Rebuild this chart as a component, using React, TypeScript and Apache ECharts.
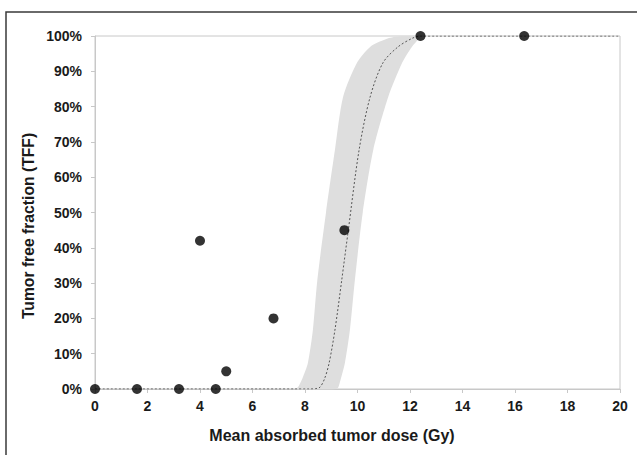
import React, { useEffect, useRef } from "react";
import * as echarts from "echarts";

// Observed data points (dose Gy, TFF %)
const pointDose = [0, 1.6, 3.2, 4.0, 4.6, 5.0, 6.8, 9.5, 12.4, 16.35];
const pointTFF = [0, 0, 0, 42, 0, 5, 20, 45, 100, 100];

// Fitted dose-response curve
const curveDose = [0, 8.2, 8.4, 8.57, 8.75, 8.92, 9.14, 9.4, 9.65, 10.06, 10.48, 10.97, 11.54, 12.1, 12.4, 13, 20];
const curveTFF = [0, 0, 0.1, 0.5, 3, 7.4, 16.7, 30.9, 45, 67.7, 82.7, 92.4, 96.9, 99.4, 100, 100, 100];

// Confidence band: left edge (ascending) then right edge (descending)
const bandLeftDose = [7.6, 7.73, 7.9, 8.11, 8.3, 8.47, 8.8, 9.14, 9.45, 9.98, 10.48, 11.2, 11.7, 12.1];
const bandLeftTFF = [0, 0.5, 3, 7.4, 16.7, 30.9, 50, 67.7, 82.7, 92.4, 96.9, 99.4, 100, 100];
const bandRightDose = [12.4, 12.07, 11.7, 11.17, 10.6, 10.2, 9.9, 9.71, 9.52, 9.35, 9.27, 9.2];
const bandRightTFF = [100, 96.9, 92.4, 82.7, 67.7, 50, 30.9, 16.7, 7.4, 2.5, 0.5, 0];

const xTitle = "Mean absorbed tumor dose (Gy)";
const yTitle = "Tumor free fraction (TFF)";

const FONT = "'Liberation Sans', Arial, sans-serif";

export default function App() {
  const ref = useRef<HTMLDivElement>(null);
  useEffect(() => {
    if (!ref.current) return;
    const chart = echarts.init(ref.current, null, { renderer: "svg" });
    const bandData = [
      ...bandLeftDose.map((d, i) => [d, bandLeftTFF[i]]),
      ...bandRightDose.map((d, i) => [d, bandRightTFF[i]]),
    ];
    const curveData = curveDose.map((d, i) => [d, curveTFF[i]]);
    const pointData = pointDose.map((d, i) => [d, pointTFF[i]]);
    chart.setOption({
      animation: false,
      backgroundColor: "#ffffff",
      grid: {
        left: 95,
        right: 17,
        top: 36,
        bottom: 66,
        show: true,
        borderColor: "#c8c8c8",
        borderWidth: 1,
        backgroundColor: "transparent",
        outerBoundsMode: "none",
      },
      xAxis: {
        type: "value",
        min: 0,
        max: 20,
        interval: 2,
        splitLine: { show: false },
        axisLine: { show: true, onZero: false, lineStyle: { color: "#c8c8c8", width: 1 } },
        axisTick: { show: true, length: 4, lineStyle: { color: "#c8c8c8" } },
        axisLabel: { color: "#1a1a1a", fontWeight: "bold", fontSize: 14, fontFamily: FONT, margin: 10 },
      },
      yAxis: {
        type: "value",
        min: 0,
        max: 100,
        interval: 10,
        splitLine: { show: false },
        axisLine: { show: true, onZero: false, lineStyle: { color: "#c8c8c8", width: 1 } },
        axisTick: { show: true, length: 4, lineStyle: { color: "#c8c8c8" } },
        axisLabel: {
          color: "#1a1a1a",
          fontWeight: "bold",
          fontSize: 14,
          fontFamily: FONT,
          margin: 13,
          formatter: "{value}%",
        },
      },
      graphic: [
        {
          type: "polyline",
          shape: { points: [[6, 455], [6, 12], [637, 12]] },
          style: { stroke: "#3a3a3a", lineWidth: 1.5, fill: null },
          silent: true,
        },
        {
          type: "text",
          x: 332,
          y: 435,
          style: {
            text: xTitle,
            fill: "#1a1a1a",
            font: `bold 16px ${FONT}`,
            textAlign: "center",
            textVerticalAlign: "middle",
          },
        },
        {
          type: "text",
          x: 28,
          y: 226,
          rotation: Math.PI / 2,
          style: {
            text: yTitle,
            fill: "#1a1a1a",
            font: `bold 15.7px ${FONT}`,
            textAlign: "center",
            textVerticalAlign: "middle",
          },
        },
      ],
      series: [
        {
          type: "custom",
          z: 1,
          data: bandData,
          renderItem: (params: any, api: any) => {
            if (params.dataIndex !== 0) return null;
            const pts = bandData.map((p) => api.coord(p));
            return {
              type: "polygon",
              shape: { points: pts, smooth: 0.25 },
              style: { fill: "#dedede", stroke: null },
            };
          },
          silent: true,
        },
        {
          type: "line",
          z: 3,
          data: curveData,
          showSymbol: false,
          symbol: "none",
          smooth: 0.3,
          lineStyle: { color: "#555555", width: 1, type: [2, 2] },
          silent: true,
        },
        {
          type: "scatter",
          z: 5,
          data: pointData,
          symbol: "circle",
          symbolSize: 10,
          itemStyle: { color: "#000000" },
        },
      ],
    });
    return () => chart.dispose();
  }, []);
  return (
    <div
      ref={ref}
      style={{ position: "fixed", left: 0, top: 0, width: 637, height: 455, background: "#fff" }}
    />
  );
}
